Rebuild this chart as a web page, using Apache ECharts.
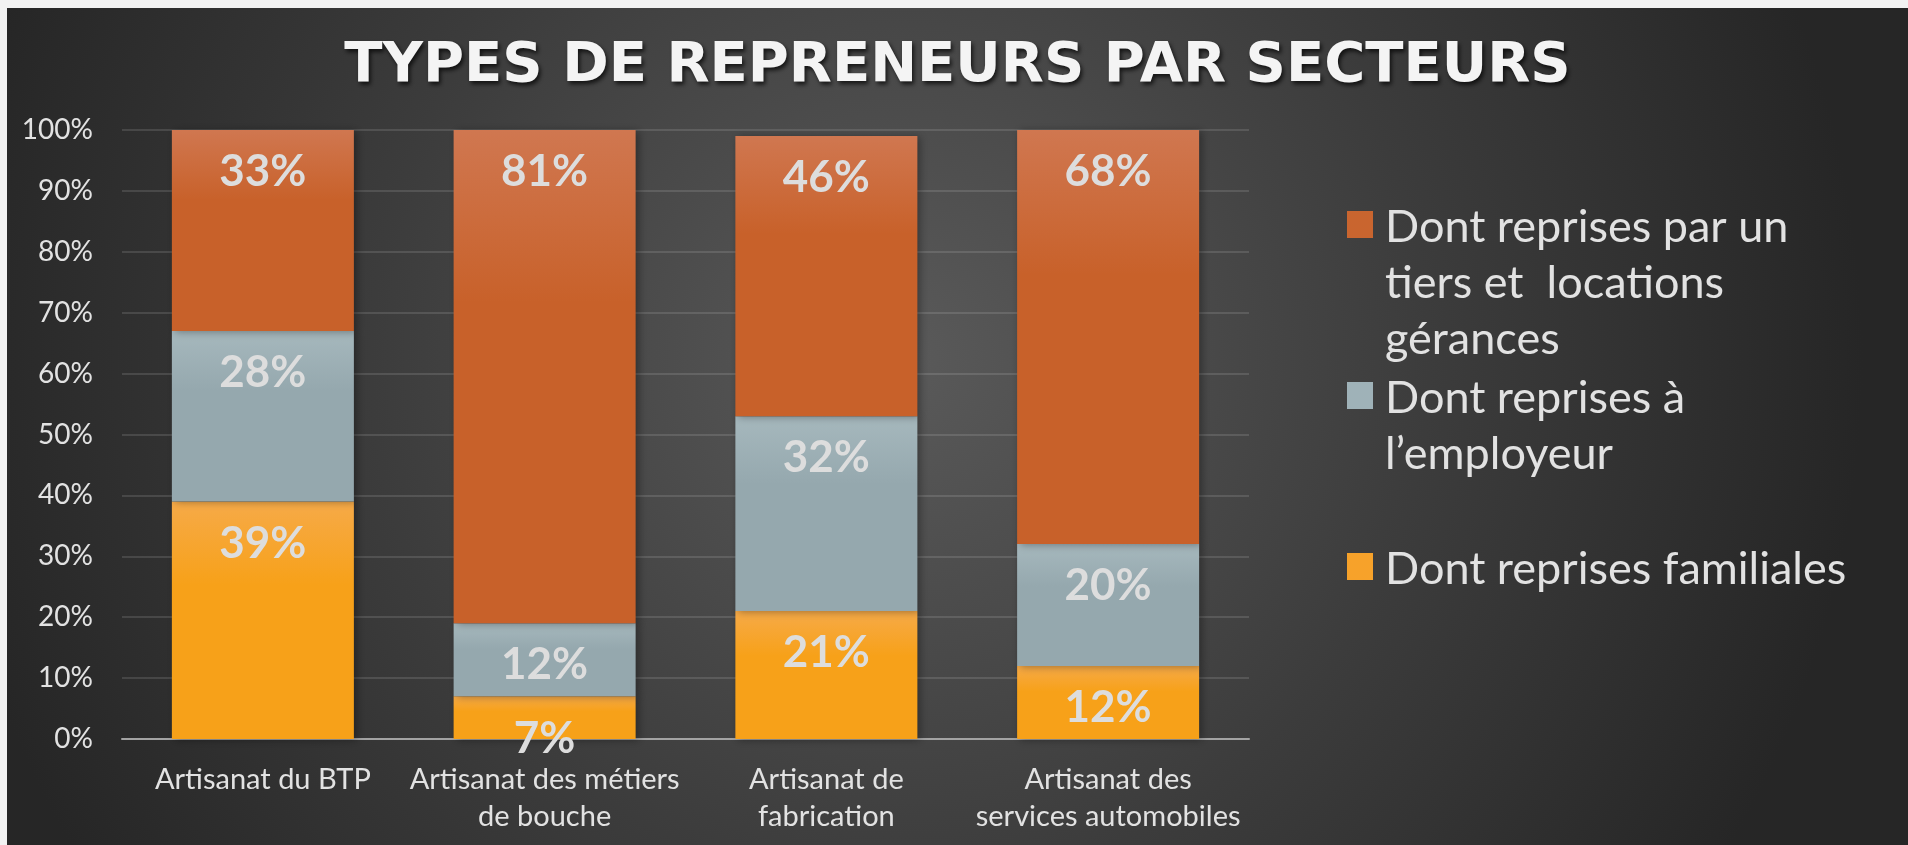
<!DOCTYPE html>
<html>
<head>
<meta charset="utf-8">
<script src="https://cdn.jsdelivr.net/npm/echarts@6/dist/echarts.min.js"></script>
<style>
  html, body { margin: 0; padding: 0; background: #f2f2f2; overflow: hidden; }
  #chart { position: absolute; left: 7px; top: 8px; width: 1901px; height: 837px; }
</style>
</head>
<body>
<div id="chart"></div>
<script>
const categories = ['Artisanat du BTP', 'Artisanat des métiers\nde bouche', 'Artisanat de\nfabrication', 'Artisanat des\nservices automobiles']
const familiales = [39, 7, 21, 12]
const employeur = [28, 12, 32, 20]
const tiers = [33, 81, 46, 68]
const seriesNames = ['Dont reprises par un tiers et  locations gérances', 'Dont reprises à l’employeur', 'Dont reprises familiales']
const legendText = {
  'Dont reprises par un tiers et  locations gérances': 'Dont reprises par un\ntiers et  locations\ngérances',
  'Dont reprises à l’employeur': 'Dont reprises à\nl’employeur\n ',
  'Dont reprises familiales': 'Dont reprises familiales\n \n ',
}

const grad = (top, bottom) => new echarts.graphic.LinearGradient(0, 0, 0, 1, [
  { offset: 0, color: top },
  { offset: 0.35, color: bottom },
  { offset: 1, color: bottom },
])

const colors = {
  tiers: ['#d07750', '#c8612a', '#c9652f'],
  employeur: ['#a6b8bd', '#95a8ae', '#9fb2b8'],
  familiales: ['#f6aa48', '#f7a119', '#f7a22a'],
}

const labelStyle = {
  show: true,
  position: 'insideTop',
  distance: 20,
  formatter: '{c}%',
  color: '#dddddd',
  fontFamily: 'Lato',
  fontWeight: 'bold',
  fontSize: 44,
}

const barShadow = {
  shadowBlur: 8,
  shadowOffsetX: 3,
  shadowOffsetY: 1,
  shadowColor: 'rgba(0, 0, 0, 0.35)',
}

const makeSeries = (name, data, c) => ({
  name,
  type: 'bar',
  stack: 'total',
  barWidth: '64.6%',
  data,
  label: labelStyle,
  itemStyle: { color: grad(c[0], c[1]), ...barShadow },
  emphasis: { disabled: true },
})

const chart = echarts.init(document.getElementById('chart'))

const option = {
  backgroundColor: new echarts.graphic.RadialGradient(0.47, 0.42, 1.15, [
    { offset: 0, color: '#5a5a5a' },
    { offset: 0.55, color: '#3c3c3c' },
    { offset: 1, color: '#262626' },
  ]),
  animation: false,
  title: {
    text: 'TYPES DE REPRENEURS PAR SECTEURS',
    left: 'center',
    top: 30,
    padding: [0, 0, 0, 15],
    textStyle: {
      fontFamily: 'DejaVu Sans',
      fontWeight: 'bold',
      fontSize: 56,
      color: '#f4f4f4',
      textShadowColor: 'rgba(0, 0, 0, 0.7)',
      textShadowBlur: 4,
      textShadowOffsetX: 2,
      textShadowOffsetY: 3,
    },
  },
  legend: {
    orient: 'vertical',
    left: 1340,
    top: 190,
    padding: 0,
    itemGap: 0,
    itemWidth: 33,
    itemHeight: 171,
    icon: 'path://M0,0 L0,0 M0,13 L26,13 L26,40 L0,40 Z M33,171 L33,171',
    selectedMode: false,
    formatter: (name) => legendText[name],
    textStyle: {
      color: '#e2e2e2',
      fontFamily: 'Lato',
      fontSize: 45,
      lineHeight: 56,
    },
    data: [
      { name: seriesNames[0], itemStyle: { color: colors.tiers[2], borderWidth: 0 } },
      { name: seriesNames[1], itemStyle: { color: colors.employeur[2], borderWidth: 0 } },
      { name: seriesNames[2], itemStyle: { color: colors.familiales[2], borderWidth: 0 } },
    ],
  },
  grid: {
    left: 115,
    top: 122,
    width: 1127,
    height: 609,
    containLabel: false,
  },
  xAxis: {
    type: 'category',
    data: categories,
    axisTick: { show: false },
    axisLine: { lineStyle: { color: '#a3a3a3', width: 2 } },
    axisLabel: {
      interval: 0,
      margin: 22,
      color: '#e2e2e2',
      fontFamily: 'Lato',
      fontSize: 29,
      lineHeight: 37,
    },
  },
  yAxis: {
    type: 'value',
    min: 0,
    max: 100,
    interval: 10,
    axisLine: { show: false },
    axisTick: { show: false },
    axisLabel: {
      formatter: '{value}%',
      margin: 29,
      color: '#e2e2e2',
      fontFamily: 'Lato',
      fontSize: 28,
    },
    splitLine: { lineStyle: { color: 'rgba(255, 255, 255, 0.12)', width: 2 } },
  },
  series: [
    makeSeries(seriesNames[2], familiales, colors.familiales),
    makeSeries(seriesNames[1], employeur, colors.employeur),
    makeSeries(seriesNames[0], tiers, colors.tiers),
  ],
}

option && chart.setOption(option)
</script>
</body>
</html>
